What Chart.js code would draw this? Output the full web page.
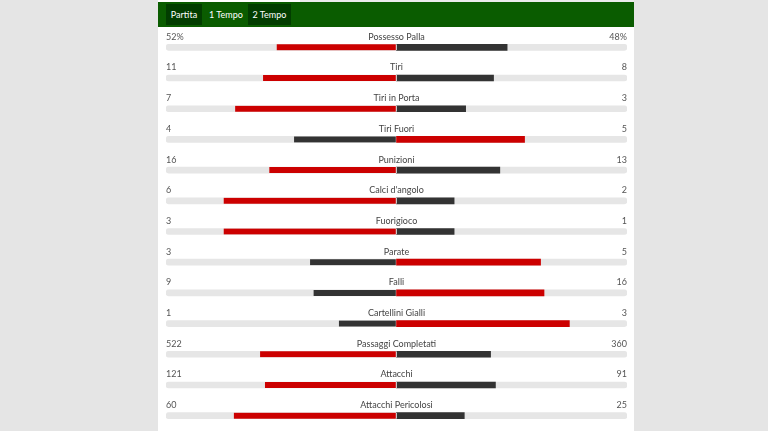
<!DOCTYPE html>
<html>
<head>
<meta charset="utf-8">
<script src="https://cdn.jsdelivr.net/npm/chart.js@4"></script>
<style>
  html, body { margin: 0; padding: 0; background: #e5e5e5; width: 768px; height: 431px; overflow: hidden; }
  #panel { position: absolute; left: 158px; top: 0; width: 476px; height: 431px; background: #fff; }
  #topstrip { position: absolute; left: 142px; top: 0; width: 334px; height: 2px; background: #ececec; }
  #header { position: absolute; left: 0; top: 2px; width: 476px; height: 25px; background: #0a5c00; }
  .tab { position: absolute; top: 2px; height: 21px; font: 9px Lato, "Liberation Sans", sans-serif; line-height: 21px; color: #fff; text-align: center; }
  .tab.on { background: #023d00; }
  #wrap { position: absolute; left: 0; top: 28px; width: 476px; height: 403px; }
</style>
</head>
<body>
<div id="panel">
  <div id="topstrip"></div>
  <div id="header">
    <div class="tab on" style="left:8px;width:36px;">Partita</div>
    <div class="tab" style="left:48px;width:40px;">1 Tempo</div>
    <div class="tab on" style="left:90px;width:43px;">2 Tempo</div>
  </div>
  <div id="wrap"><canvas id="chart-stats"></canvas></div>
</div>
<script>
// Statistiche partita
const categories = ['Possesso Palla', 'Tiri', 'Tiri in Porta', 'Tiri Fuori', 'Punizioni', "Calci d'angolo",
    'Fuorigioco', 'Parate', 'Falli', 'Cartellini Gialli', 'Passaggi Completati', 'Attacchi', 'Attacchi Pericolosi'];
const homeValues = [52, 11, 7, 4, 16, 6, 3, 3, 9, 1, 522, 121, 60];
const awayValues = [48, 8, 3, 5, 13, 2, 1, 5, 16, 3, 360, 91, 25];
const percentRows = ['Possesso Palla'];

const RED = '#cc0000';
const DARK = '#333333';
const TRACK = '#e6e6e6';

// quota di ogni squadra sul totale della riga
const homeShare = homeValues.map((v, i) => v / (v + awayValues[i]));
const awayShare = awayValues.map((v, i) => v / (homeValues[i] + v));

// il valore maggiore va in rosso, il minore in grigio scuro
const redBars = homeValues.map((v, i) => v >= awayValues[i] ? [-homeShare[i], 0] : [0, awayShare[i]]);
const darkBars = homeValues.map((v, i) => v >= awayValues[i] ? [0, awayShare[i]] : [-homeShare[i], 0]);

function sideBorder(ctx) {
    const raw = ctx.raw;
    if (!raw) return 0;
    return raw[1] === 0 ? { right: 1, left: 0, top: 0, bottom: 0 } : { left: 0, right: 0, top: 0, bottom: 0 };
}

const labelsPlugin = {
    id: 'rowLabels',
    afterDatasetsDraw(chart) {
        const { ctx, chartArea } = chart;
        const yScale = chart.scales.y;
        const xScale = chart.scales.x;
        ctx.save();
        ctx.font = '9px Lato, "Liberation Sans", sans-serif';
        ctx.textBaseline = 'middle';
        categories.forEach((cat, i) => {
            const y = yScale.getPixelForValue(i) - 10.5;
            const suffix = percentRows.includes(cat) ? '%' : '';
            ctx.fillStyle = '#555';
            ctx.textAlign = 'left';
            ctx.fillText(homeValues[i] + suffix, chartArea.left, y);
            ctx.textAlign = 'right';
            ctx.fillText(awayValues[i] + suffix, chartArea.right, y);
            ctx.fillStyle = '#444';
            ctx.textAlign = 'center';
            ctx.fillText(cat, xScale.getPixelForValue(0), y);
        });
        ctx.restore();
    }
};

new Chart(document.getElementById('chart-stats'), {
    type: 'bar',
    data: {
        labels: categories,
        datasets: [
            {
                data: categories.map(() => [-1, 1]),
                backgroundColor: TRACK,
                borderRadius: 3,
                borderSkipped: false,
                barThickness: 6,
                grouped: false,
                order: 3
            },
            {
                data: redBars,
                backgroundColor: RED,
                borderColor: '#ffffff',
                borderWidth: sideBorder,
                borderSkipped: false,
                barThickness: 6,
                grouped: false,
                order: 1
            },
            {
                data: darkBars,
                backgroundColor: DARK,
                borderColor: '#ffffff',
                borderWidth: sideBorder,
                borderSkipped: false,
                barThickness: 6,
                grouped: false,
                order: 1
            }
        ]
    },
    options: {
        indexAxis: 'y',
        responsive: true,
        maintainAspectRatio: false,
        animation: false,
        layout: { padding: { left: 8, right: 7, top: 4, bottom: 0 } },
        plugins: {
            legend: { display: false },
            tooltip: { enabled: false }
        },
        scales: {
            x: { min: -1, max: 1, display: false },
            y: { display: false, offset: true }
        }
    },
    plugins: [labelsPlugin]
});
</script>
</body>
</html>
